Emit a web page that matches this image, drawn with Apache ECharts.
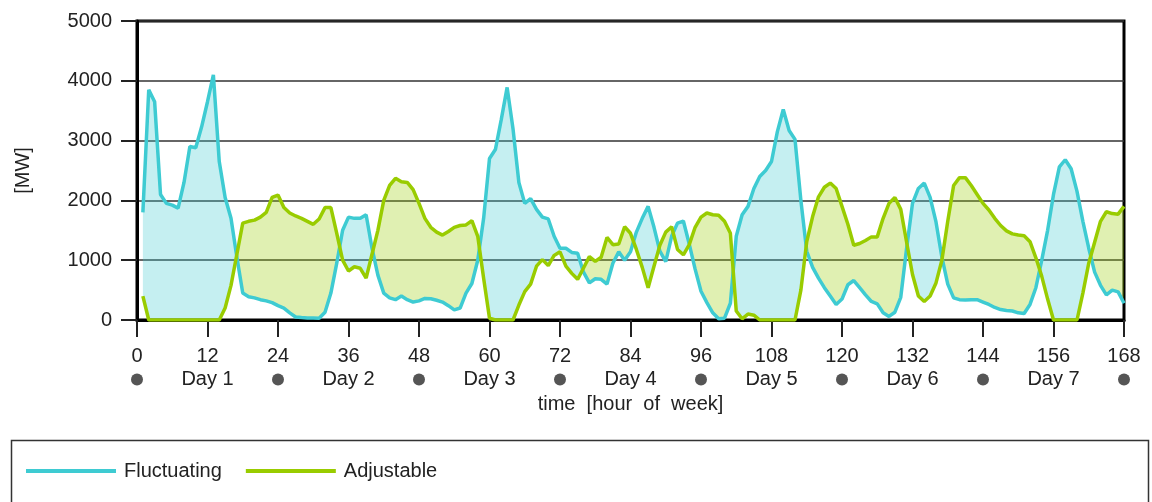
<!DOCTYPE html>
<html>
<head>
<meta charset="utf-8">
<script src="https://cdn.jsdelivr.net/npm/echarts@6/dist/echarts.min.js"></script>
<style>html,body{margin:0;padding:0;background:#fff}#c{width:1152px;height:502px}</style>
</head>
<body>
<div id="c"></div>
<script>
// hour of week, 1..168
const hours = [
  1,2,3,4,5,6,7,8,9,10,11,12,13,14,15,16,17,18,19,20,21,22,23,24,
  25,26,27,28,29,30,31,32,33,34,35,36,37,38,39,40,41,42,43,44,45,46,47,48,
  49,50,51,52,53,54,55,56,57,58,59,60,61,62,63,64,65,66,67,68,69,70,71,72,
  73,74,75,76,77,78,79,80,81,82,83,84,85,86,87,88,89,90,91,92,93,94,95,96,
  97,98,99,100,101,102,103,104,105,106,107,108,109,110,111,112,113,114,115,116,117,118,119,120,
  121,122,123,124,125,126,127,128,129,130,131,132,133,134,135,136,137,138,139,140,141,142,143,144,
  145,146,147,148,149,150,151,152,153,154,155,156,157,158,159,160,161,162,163,164,165,166,167,168
];
const fluctuating = [
  1800,3850,3650,2100,1950,1920,1870,2300,2900,2880,3230,3650,4100,2650,2050,1700,1050,450,390,370,340,320,290,240,
  200,120,50,40,35,35,30,130,450,950,1500,1720,1700,1700,1760,1200,750,450,370,340,400,340,300,320,
  360,355,330,300,240,170,200,450,610,1000,1700,2700,2850,3350,3890,3200,2300,1950,2030,1850,1720,1690,1400,1200,
  1200,1130,1115,800,620,690,680,600,950,1140,1000,1140,1470,1700,1900,1550,1150,975,1400,1620,1655,1270,850,480,
  290,120,20,30,280,1400,1760,1900,2200,2400,2500,2650,3150,3520,3170,3020,2000,1150,880,700,540,400,260,350,
  590,660,540,420,310,270,120,60,130,380,1200,1950,2200,2290,2050,1640,1050,600,370,340,335,340,340,300,
  260,210,175,160,150,120,110,260,540,1000,1500,2100,2560,2680,2530,2150,1650,1200,800,580,420,500,470,280
];
const adjustable = [
  400,0,0,0,0,0,0,0,0,0,0,0,0,0,200,580,1100,1620,1650,1670,1720,1800,2050,2090,
  1880,1790,1740,1700,1650,1600,1690,1880,1880,1450,1000,820,890,865,700,1100,1500,2000,2250,2370,2310,2300,2180,1950,
  1700,1550,1470,1420,1480,1550,1580,1590,1660,1400,700,30,0,0,0,0,250,475,600,900,1010,910,1080,1140,
  900,780,680,870,1060,980,1050,1380,1260,1270,1560,1450,1180,880,540,900,1250,1470,1560,1180,1090,1260,1550,1720,
  1790,1760,1750,1650,1450,150,20,100,80,0,0,0,0,0,0,0,500,1310,1730,2060,2220,2290,2200,1900,
  1600,1250,1280,1330,1390,1390,1700,1950,2050,1850,1300,760,400,310,400,620,1000,1650,2250,2380,2380,2250,2100,1950,
  1840,1700,1580,1490,1440,1420,1410,1310,1040,730,350,0,0,0,0,0,450,950,1300,1650,1810,1780,1770,1900
];
const xTicks = [0,12,24,36,48,60,72,84,96,108,120,132,144,156,168];
const dayLabels = ['Day 1','Day 2','Day 3','Day 4','Day 5','Day 6','Day 7'];
const seriesNames = ['Fluctuating','Adjustable'];

const cyan = '#3ecbd2', green = '#99cc00';
const cyanFill = 'rgba(62,203,210,0.30)', greenFill = 'rgba(153,204,0,0.30)';
const FONT = '"Liberation Sans", Arial, sans-serif';

// build fill regions between the two curves
const regions = [];
let reg = null;
for (let i = 0; i < hours.length; i++) {
  const h = hours[i], f = fluctuating[i], a = adjustable[i];
  const d = f - a, s = Math.sign(d);
  if (i === 0) { reg = {sign: s, fp: [[h, f]], ap: [[h, a]]}; regions.push(reg); continue; }
  if (s !== 0 && reg.sign !== 0 && s !== reg.sign) {
    const dp = fluctuating[i-1] - adjustable[i-1];
    const t = dp / (dp - d);
    const hc = hours[i-1] + t * (h - hours[i-1]);
    const vc = fluctuating[i-1] + t * (f - fluctuating[i-1]);
    reg.fp.push([hc, vc]); reg.ap.push([hc, vc]);
    reg = {sign: s, fp: [[hc, vc]], ap: [[hc, vc]]}; regions.push(reg);
  } else if (reg.sign === 0 && s !== 0) reg.sign = s;
  reg.fp.push([h, f]); reg.ap.push([h, a]);
}

const chart = echarts.init(document.getElementById('c'), null, {renderer: 'canvas'});
chart.setOption({
  animation: false,
  textStyle: {fontFamily: FONT},
  grid: {left: 137, right: 28, top: 21, bottom: 182, show: true, borderColor: '#000', borderWidth: 3, backgroundColor: 'transparent'},
  xAxis: {
    type: 'value', min: 0, max: 168, interval: 12,
    name: 'time  [hour  of  week]', nameLocation: 'middle', nameGap: 72,
    nameTextStyle: {fontSize: 20, color: '#222', fontFamily: FONT},
    axisLine: {show: true, lineStyle: {color: '#000', width: 3}},
    axisTick: {show: true, length: 17, lineStyle: {color: '#222', width: 2}},
    splitLine: {show: false},
    axisLabel: {
      margin: 25, color: '#222', fontSize: 20, fontFamily: FONT, showMinLabel: true, showMaxLabel: true,
      formatter: function (v) {
        if (xTicks.indexOf(v) < 0) return '';
        if (v % 24 === 0) return '{n|' + v + '}\n{dot| }';
        return '{n|' + v + '}\n{n|' + dayLabels[(v - 12) / 24] + '}';
      },
      rich: {
        n: {fontSize: 20, lineHeight: 23, color: '#222', fontFamily: FONT},
        dot: {width: 12, height: 12, borderRadius: 6, backgroundColor: '#555', lineHeight: 23}
      }
    }
  },
  yAxis: {
    type: 'value', min: 0, max: 5000, interval: 1000,
    name: '[MW]', nameLocation: 'middle', nameGap: 104, nameRotate: 90,
    nameTextStyle: {fontSize: 20, color: '#222', fontFamily: FONT},
    axisLine: {show: true, lineStyle: {color: '#000', width: 3}},
    axisTick: {show: true, length: 16, lineStyle: {color: '#222', width: 2}},
    axisLabel: {margin: 25, color: '#222', fontSize: 20, fontFamily: FONT, formatter: function (v) { return String(v); }},
    splitLine: {show: true, lineStyle: {color: '#333', width: 1.5}}
  },
  legend: {
    left: 21, top: 456, itemWidth: 90, itemHeight: 4, itemGap: 24, icon: 'rect',
    data: seriesNames,
    textStyle: {fontSize: 20, color: '#222', fontFamily: FONT, padding: [0, 0, 0, 3]}
  },
  graphic: [{
    type: 'rect', left: 9, top: 438, silent: true,
    shape: {width: 1137, height: 90},
    style: {fill: 'none', stroke: '#333', lineWidth: 1.5}
  }],
  series: [
    {
      type: 'custom', name: 'fill', z: 1, silent: true,
      data: regions.map((r, i) => [r.fp[0][0], 0, i]),
      renderItem: function (params, api) {
        const r = regions[params.dataIndex];
        const pts = r.fp.concat(r.ap.slice().reverse()).map(p => api.coord(p));
        return {type: 'polygon', shape: {points: pts}, style: {fill: r.sign > 0 ? cyanFill : greenFill, stroke: null}};
      }
    },
    {
      type: 'line', name: seriesNames[0], z: 3, symbol: 'none',
      data: hours.map((h, i) => [h, fluctuating[i]]),
      lineStyle: {color: cyan, width: 3.5}, itemStyle: {color: cyan}
    },
    {
      type: 'line', name: seriesNames[1], z: 3, symbol: 'none',
      data: hours.map((h, i) => [h, adjustable[i]]),
      lineStyle: {color: green, width: 3.5}, itemStyle: {color: green}
    }
  ]
});
</script>
</body>
</html>
